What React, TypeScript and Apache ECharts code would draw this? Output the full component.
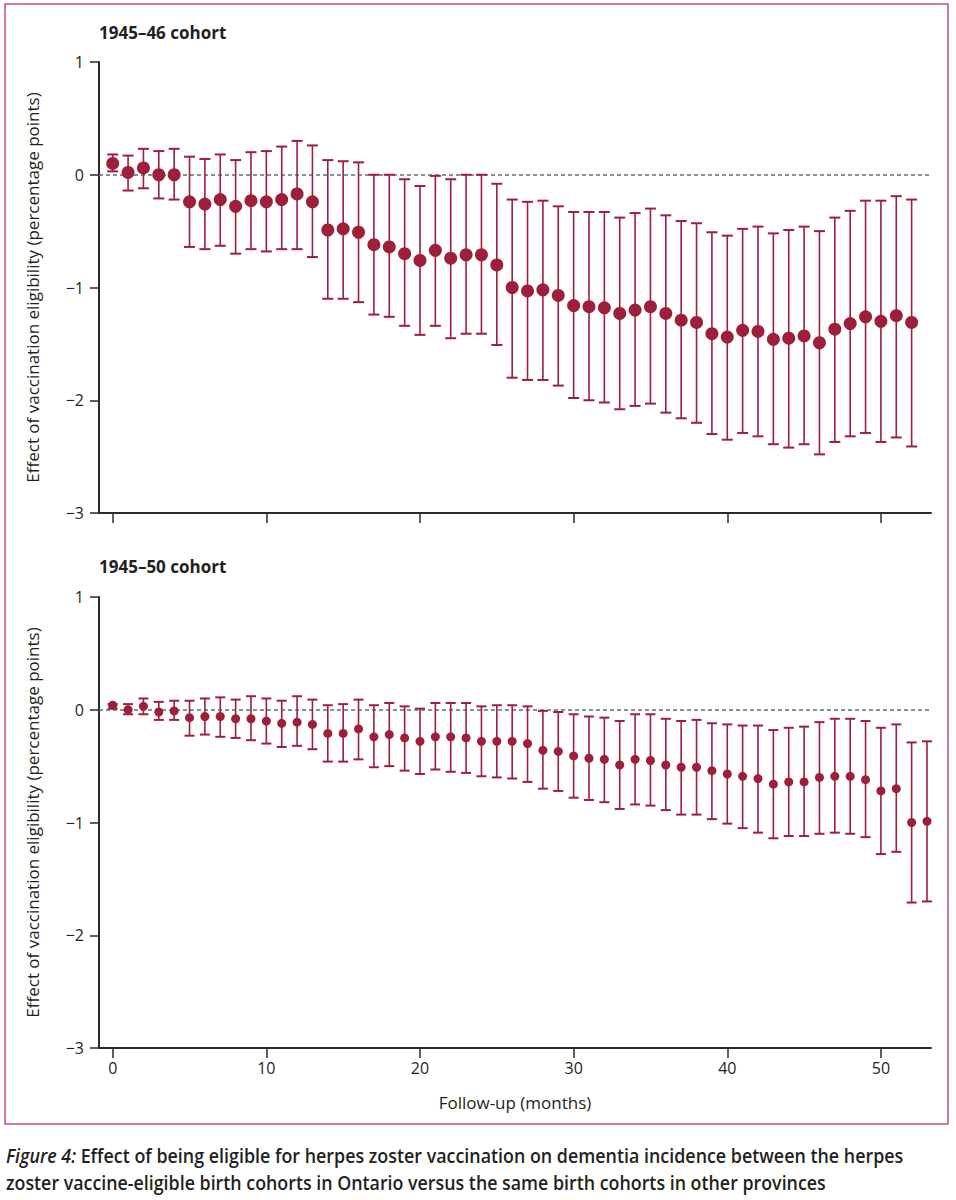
import React, { useEffect, useRef } from "react";
import * as echarts from "echarts";

// ---- Data ----
const months46 = [0,1,2,3,4,5,6,7,8,9,10,11,12,13,14,15,16,17,18,19,20,21,22,23,24,25,26,27,28,29,30,31,32,33,34,35,36,37,38,39,40,41,42,43,44,45,46,47,48,49,50,51,52];
const est46 = [0.10,0.02,0.06,0.00,0.00,-0.24,-0.26,-0.22,-0.28,-0.23,-0.24,-0.22,-0.17,-0.24,-0.49,-0.48,-0.51,-0.62,-0.64,-0.70,-0.76,-0.67,-0.74,-0.71,-0.71,-0.80,-1.00,-1.03,-1.02,-1.07,-1.16,-1.17,-1.18,-1.23,-1.20,-1.17,-1.23,-1.29,-1.31,-1.41,-1.44,-1.38,-1.39,-1.46,-1.45,-1.43,-1.49,-1.37,-1.32,-1.26,-1.30,-1.25,-1.31];
const hi46 = [0.18,0.17,0.23,0.21,0.23,0.16,0.14,0.18,0.13,0.20,0.21,0.25,0.30,0.26,0.13,0.12,0.11,0.00,0.00,-0.04,-0.10,-0.01,-0.04,0.00,0.00,-0.08,-0.22,-0.24,-0.23,-0.28,-0.33,-0.33,-0.33,-0.38,-0.34,-0.30,-0.36,-0.41,-0.43,-0.51,-0.54,-0.48,-0.46,-0.52,-0.49,-0.46,-0.50,-0.38,-0.32,-0.23,-0.23,-0.19,-0.22];
const lo46 = [0.03,-0.14,-0.12,-0.21,-0.22,-0.64,-0.66,-0.63,-0.70,-0.66,-0.68,-0.66,-0.66,-0.73,-1.10,-1.10,-1.13,-1.24,-1.26,-1.34,-1.42,-1.34,-1.45,-1.41,-1.41,-1.51,-1.80,-1.82,-1.82,-1.87,-1.98,-2.00,-2.02,-2.08,-2.05,-2.03,-2.11,-2.16,-2.20,-2.30,-2.35,-2.29,-2.32,-2.39,-2.42,-2.39,-2.48,-2.37,-2.32,-2.29,-2.37,-2.33,-2.41];

const months50 = [0,1,2,3,4,5,6,7,8,9,10,11,12,13,14,15,16,17,18,19,20,21,22,23,24,25,26,27,28,29,30,31,32,33,34,35,36,37,38,39,40,41,42,43,44,45,46,47,48,49,50,51,52,53];
const est50 = [0.04,0.00,0.03,-0.02,-0.01,-0.07,-0.06,-0.06,-0.08,-0.08,-0.10,-0.12,-0.11,-0.13,-0.21,-0.21,-0.17,-0.24,-0.22,-0.25,-0.28,-0.24,-0.24,-0.25,-0.28,-0.28,-0.28,-0.30,-0.36,-0.37,-0.41,-0.43,-0.44,-0.49,-0.44,-0.45,-0.49,-0.51,-0.51,-0.54,-0.57,-0.59,-0.61,-0.66,-0.64,-0.64,-0.60,-0.59,-0.59,-0.62,-0.72,-0.70,-1.00,-0.99];
const hi50 = [0.05,0.05,0.10,0.07,0.08,0.08,0.10,0.11,0.09,0.12,0.10,0.08,0.12,0.09,0.04,0.05,0.09,0.04,0.06,0.03,0.01,0.06,0.06,0.06,0.03,0.04,0.04,0.03,-0.01,-0.02,-0.04,-0.06,-0.07,-0.10,-0.04,-0.04,-0.08,-0.10,-0.09,-0.12,-0.13,-0.14,-0.14,-0.18,-0.16,-0.15,-0.11,-0.08,-0.08,-0.10,-0.16,-0.13,-0.29,-0.28];
const lo50 = [0.01,-0.04,-0.04,-0.09,-0.09,-0.23,-0.22,-0.24,-0.25,-0.27,-0.30,-0.33,-0.32,-0.35,-0.46,-0.46,-0.44,-0.51,-0.50,-0.54,-0.57,-0.53,-0.55,-0.56,-0.59,-0.60,-0.61,-0.64,-0.70,-0.72,-0.78,-0.80,-0.82,-0.88,-0.84,-0.85,-0.89,-0.93,-0.93,-0.97,-1.01,-1.05,-1.09,-1.14,-1.12,-1.12,-1.10,-1.09,-1.10,-1.13,-1.28,-1.26,-1.71,-1.70];

const xTicks = [0, 10, 20, 30, 40, 50];
const panelTitles = ["1945–46 cohort", "1945–50 cohort"];
const yAxisTitle = "Effect of vaccination eligibility (percentage points)";
const xAxisTitle = "Follow-up (months)";
const captionLabel = "Figure 4:";
const captionLine1 = " Effect of being eligible for herpes zoster vaccination on dementia incidence between the herpes";
const captionLine2 = "zoster vaccine-eligible birth cohorts in Ontario versus the same birth cohorts in other provinces";

const RED = "#9e1f3b";
const AXIS = "#2b2b2b";
const TXT = "#231f20";
const FONT = "'Open Sans', 'Noto Sans', sans-serif";
const CAP_ITALIC = `italic 600 19px ${FONT}`;
const CAP_BOLD = `600 19px ${FONT}`;

const fmtY = (v: number) => (v < 0 ? "\u2212" + Math.abs(v) : String(v));

function measure(text: string, font: string): number {
  const c = document.createElement("canvas").getContext("2d");
  if (!c) return text.length * 9;
  c.font = font;
  return c.measureText(text).width;
}

function errorSeries(idx: number, xs: number[], lo: number[], hi: number[], capHalf: number) {
  return {
    type: "custom",
    xAxisIndex: idx,
    yAxisIndex: idx,
    data: xs.map((x, i) => [x, lo[i], hi[i]]),
    renderItem: (params: any, api: any) => {
      const x = api.value(0);
      const pLo = api.coord([x, api.value(1)]);
      const pHi = api.coord([x, api.value(2)]);
      return {
        type: "group",
        children: [
          { type: "line", shape: { x1: pLo[0], y1: pLo[1], x2: pHi[0], y2: pHi[1] }, style: { stroke: RED, lineWidth: 1.6 } },
          { type: "line", shape: { x1: pLo[0] - capHalf, y1: pLo[1], x2: pLo[0] + capHalf, y2: pLo[1] }, style: { stroke: RED, lineWidth: 2 } },
          { type: "line", shape: { x1: pHi[0] - capHalf, y1: pHi[1], x2: pHi[0] + capHalf, y2: pHi[1] }, style: { stroke: RED, lineWidth: 2 } },
        ],
      };
    },
    z: 2,
  };
}

function pointSeries(idx: number, xs: number[], est: number[], size: number) {
  return {
    type: "scatter",
    xAxisIndex: idx,
    yAxisIndex: idx,
    data: xs.map((x, i) => [x, est[i]]),
    symbol: "circle",
    symbolSize: size,
    itemStyle: { color: RED, opacity: 1 },
    z: 3,
    markLine: {
      silent: true,
      symbol: "none",
      label: { show: false },
      lineStyle: { color: "#5c7078", type: [4, 3], width: 1.5 },
      data: [{ yAxis: 0 }],
      z: 1,
    },
  };
}

function xAxisCfg(idx: number, showLabels: boolean) {
  return {
    type: "value",
    gridIndex: idx,
    min: -0.892,
    max: 53.26,
    splitLine: { show: false },
    axisLine: { show: true, onZero: false, lineStyle: { color: AXIS, width: 2 } },
    axisTick: { show: true, length: 10, customValues: xTicks, lineStyle: { color: AXIS, width: 1.5 } },
    axisLabel: {
      show: showLabels,
      customValues: xTicks,
      fontFamily: FONT,
      fontSize: 16,
      color: TXT,
      margin: 12,
    },
    name: showLabels ? xAxisTitle : "",
    nameLocation: "middle",
    nameGap: 46,
    nameTextStyle: { fontFamily: FONT, fontSize: 17, color: TXT },
  };
}

function yAxisCfg(idx: number) {
  return {
    type: "value",
    gridIndex: idx,
    min: -3,
    max: 1,
    interval: 1,
    splitLine: { show: false },
    axisLine: { show: true, onZero: false, lineStyle: { color: AXIS, width: 2 } },
    axisTick: { show: true, length: 9, lineStyle: { color: AXIS, width: 1.5 } },
    axisLabel: { formatter: fmtY, fontFamily: FONT, fontSize: 16, color: TXT, margin: 15 },
    name: yAxisTitle,
    nameLocation: "middle",
    nameRotate: 90,
    nameGap: 58,
    nameTextStyle: { fontFamily: FONT, fontSize: 17, color: TXT },
  };
}

export default function App() {
  const ref = useRef<HTMLDivElement>(null);
  useEffect(() => {
    if (!ref.current) return;
    const chart = echarts.init(ref.current, undefined, { renderer: "svg" });

    const capLeft = 6;
    const wLabel = measure(captionLabel, CAP_ITALIC);
    const wRest = measure(captionLine1, CAP_BOLD);
    const w2 = measure(captionLine2, CAP_BOLD);
    const s1 = (904 - capLeft) / (wLabel + wRest);
    const s2 = (827 - capLeft) / w2;

    chart.setOption({
      animation: false,
      backgroundColor: "#ffffff",
      grid: [
        { left: 99, top: 62, width: 832, height: 451 },
        { left: 99, top: 597, width: 832, height: 451 },
      ],
      xAxis: [xAxisCfg(0, false), xAxisCfg(1, true)],
      yAxis: [yAxisCfg(0), yAxisCfg(1)],
      series: [
        errorSeries(0, months46, lo46, hi46, 5.5),
        pointSeries(0, months46, est46, 13),
        errorSeries(1, months50, lo50, hi50, 5),
        pointSeries(1, months50, est50, 9),
      ],
      graphic: [
        {
          type: "rect",
          shape: { x: 5, y: 4, width: 943, height: 1120 },
          style: { fill: "none", stroke: "#cc4d6b", lineWidth: 1.5 },
          silent: true,
        },
        {
          type: "text",
          x: 99,
          y: 32,
          style: { text: panelTitles[0], font: `bold 17px ${FONT}`, fill: TXT, verticalAlign: "middle" },
        },
        {
          type: "text",
          x: 99,
          y: 566,
          style: { text: panelTitles[1], font: `bold 17px ${FONT}`, fill: TXT, verticalAlign: "middle" },
        },
        {
          type: "group",
          x: capLeft,
          y: 1155,
          scaleX: s1,
          children: [
            { type: "text", x: 0, y: 0, style: { text: captionLabel, font: CAP_ITALIC, fill: TXT, verticalAlign: "middle" } },
            { type: "text", x: wLabel, y: 0, style: { text: captionLine1, font: CAP_BOLD, fill: TXT, verticalAlign: "middle" } },
          ],
        },
        {
          type: "group",
          x: capLeft,
          y: 1182,
          scaleX: s2,
          children: [
            { type: "text", x: 0, y: 0, style: { text: captionLine2, font: CAP_BOLD, fill: TXT, verticalAlign: "middle" } },
          ],
        },
      ],
    });
    return () => chart.dispose();
  }, []);
  return <div ref={ref} style={{ position: "absolute", left: 0, top: 0, width: 956, height: 1200 }} />;
}
